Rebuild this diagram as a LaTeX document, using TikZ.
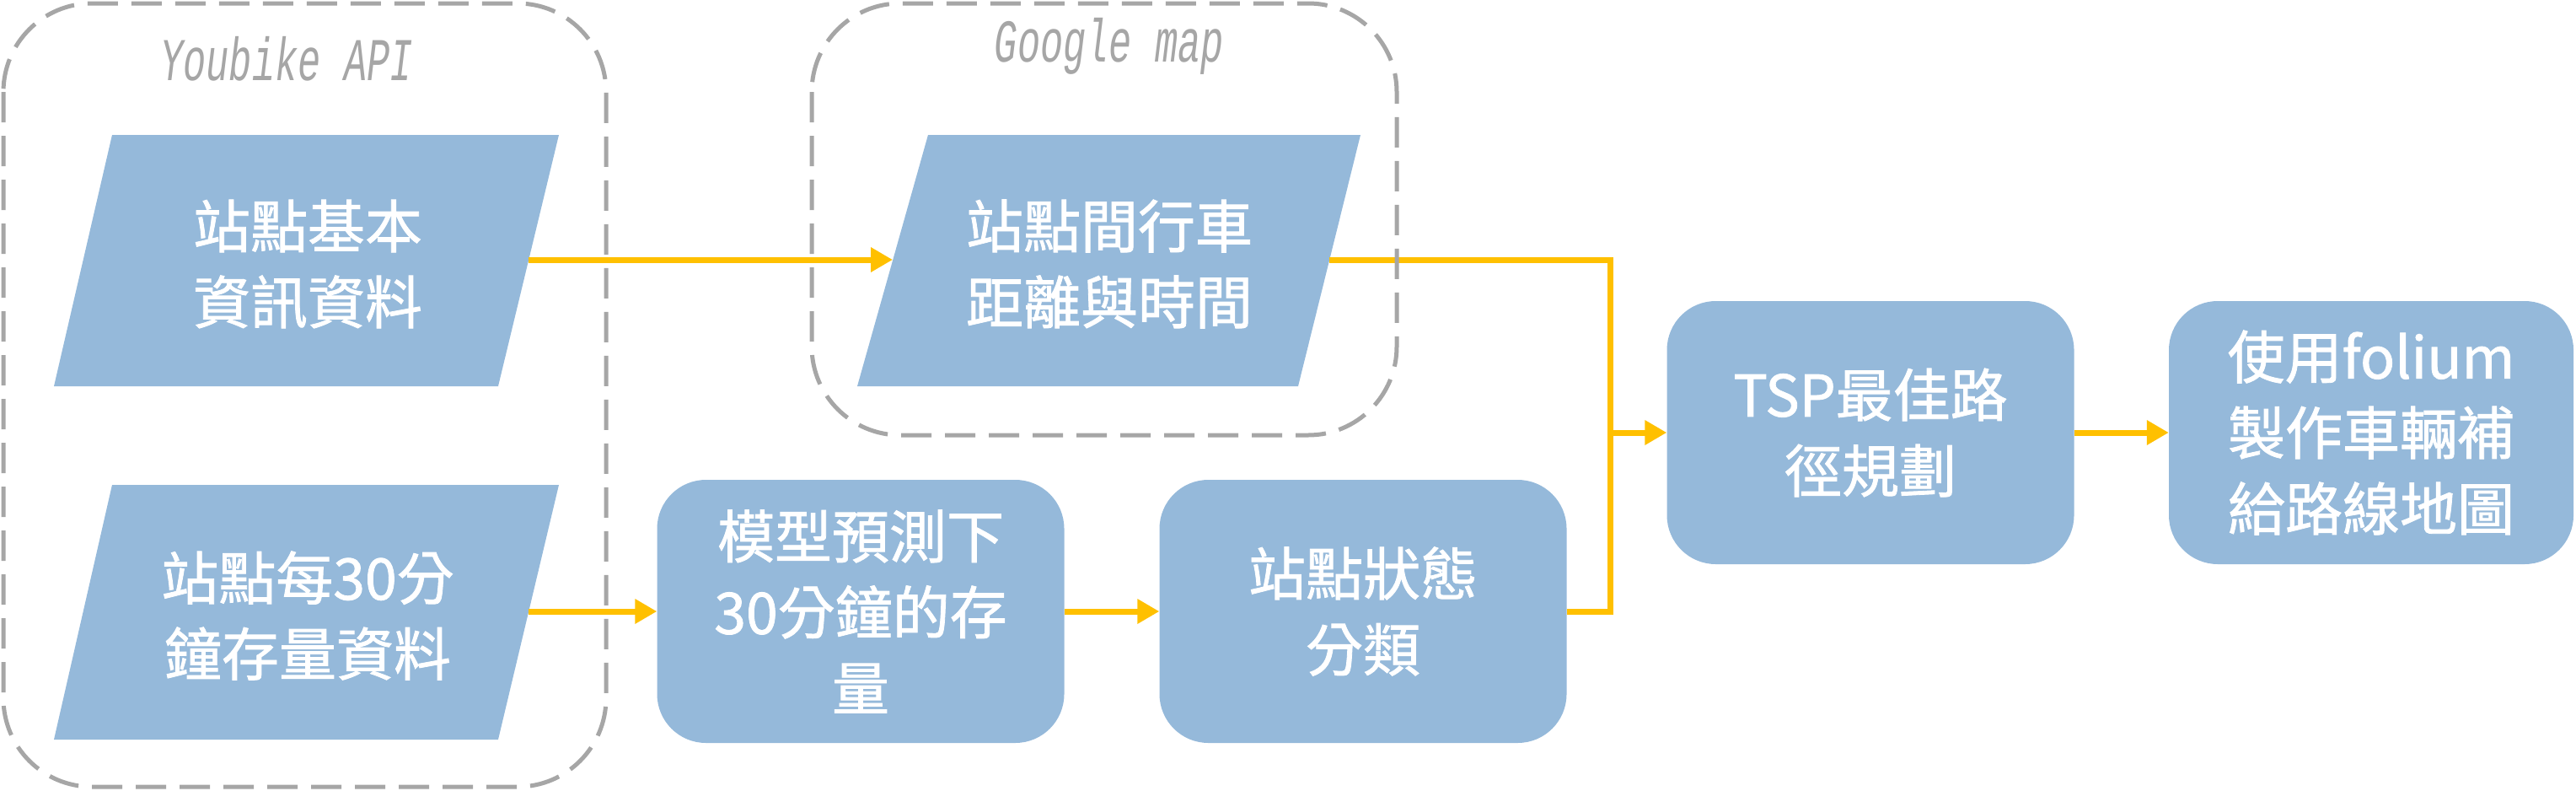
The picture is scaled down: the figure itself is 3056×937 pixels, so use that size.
\documentclass[tikz,border=0pt]{standalone}
\usepackage{fontspec}
\newfontfamily\cjk[FakeBold=1.2]{Noto Sans CJK TC}
\newfontfamily\labfont{Liberation Mono}
\usetikzlibrary{arrows.meta}
\definecolor{boxblue}{RGB}{149,185,218}
\definecolor{arrowyellow}{RGB}{255,192,0}
\definecolor{dashgray}{RGB}{166,166,166}
\begin{document}
\begin{tikzpicture}[x=1pt,y=-1pt,
  group/.style={draw=dashgray, line width=5pt, dash pattern=on 36pt off 16pt, rounded corners=105pt},
  grouplabel/.style={text=dashgray, font=\fontsize{72}{72}\labfont\itshape},
  io/.style={fill=boxblue},
  txt/.style={text=white, align=center, font=\fontsize{68}{90}\cjk},
  proc/.style={txt, fill=boxblue, rounded corners=58pt, minimum width=483pt, minimum height=312pt, inner sep=0pt},
  flow/.style={draw=arrowyellow, line width=7pt, -{Triangle[length=26pt,width=28pt]}},
  link/.style={draw=arrowyellow, line width=7pt}]
\useasboundingbox (0,0) rectangle (3056,937);

% input data (parallelograms)
\fill[io] (133,160) -- (663,160) -- (591,458) -- (64,458) -- cycle;
\node[txt] (p1) at (365,313) {站點基本\\資訊資料};
\fill[io] (133,575) -- (663,575) -- (591,877) -- (64,877) -- cycle;
\node[txt] (p2) at (365,730) {站點每30分\\鐘存量資料};
\fill[io] (1101,160) -- (1614,160) -- (1540,458) -- (1017,458) -- cycle;
\node[txt] (p3) at (1316,313) {站點間行車\\距離與時間};

% process boxes
\node[proc] (a) at (1021,725) {模型預測下\\30分鐘的存\\量};
\node[proc] (b) at (1617,725) {站點狀態\\分類};
\node[proc] (tsp) at (2219,513) {TSP最佳路\\徑規劃};
\node[proc, minimum width=480pt] (fol) at (2813,513) {使用folium\\製作車輛補\\給路線地圖};

% connectors
\coordinate (p1r) at (627,308);
\coordinate (p3l) at (1059,308);
\coordinate (p2r) at (627,725);
\coordinate (p3r) at (1577,308);
\coordinate (j) at (1910,513);
\draw[flow] (p1r) -- (p3l);
\draw[flow] (p2r) -- (a.west);
\draw[flow] (a.east) -- (b.west);
\draw[link] (p3r) -| (j);
\draw[link] (b.east) -| (j);
\draw[flow] (j) -- (tsp.west);
\draw[flow] (tsp.east) -- (fol.west);

% dashed groups
\draw[group] (4,4) rectangle (719,933);
\node[grouplabel] (ylab) at (340,70) {\scalebox{0.63}[1]{Youbike API}};
\draw[group] (963,4) rectangle (1657,516);
\node[grouplabel] (glab) at (1316,55) {\scalebox{0.63}[1]{Google map}};
\end{tikzpicture}
\end{document}
